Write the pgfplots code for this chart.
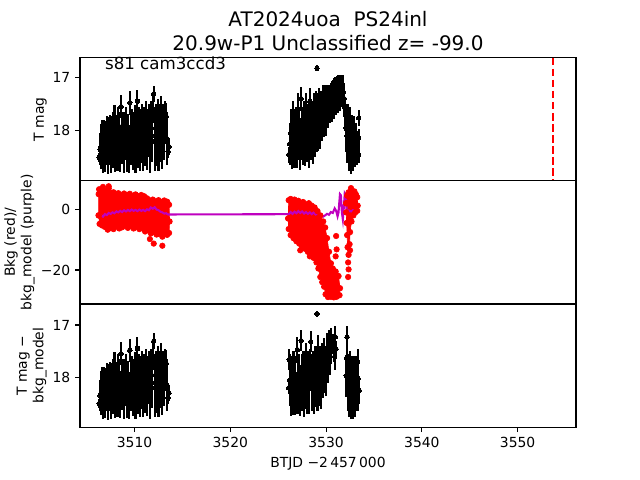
\documentclass[border=0pt]{standalone}
\usepackage{fontspec}
\setmainfont{DejaVu Sans}
\setsansfont{DejaVu Sans}
\usepackage{pgfplots}
\pgfplotsset{compat=1.18}
\usepackage{pgfplotstable}
\definecolor{purp}{rgb}{0.75,0,0.75}

\pgfplotsset{
  panel/.style={
    scale only axis, width=357.12pt, height=88.704pt,
    xmin=3504.3, xmax=3556.1,
    axis line style={line width=0.8pt},
    tick align=outside, tick pos=left, major tick length=3.5pt,
    tick style={line width=0.8pt, black},
    tick label style={font=\fontsize{10}{12}\selectfont},
    /pgf/number format/assume math mode=true,
    ylabel style={font=\fontsize{10}{12}\selectfont, align=center, inner sep=0pt, anchor=south},
  },
  ebar/.style={black, only marks, mark=*, mark size=1.6pt, mark options={fill=black, draw=black, line width=0pt},
    error bars/.cd, y dir=both, y explicit, error mark=none, error bar style={line width=1.5pt, black}},
}

% group 1 (shared by both magnitude panels)
\pgfplotstableread[row sep=\\]{
x y e\\
3506.3 18.50 0.08\\ 3506.4 18.35 0.30\\ 3506.5 18.30 0.42\\ 3506.6 18.20 0.40\\ 3506.7 18.35 0.45\\
3506.8 18.15 0.35\\ 3506.9 18.30 0.48\\ 3507.0 18.25 0.40\\ 3507.1 18.10 0.38\\ 3507.2 18.40 0.42\\
3507.3 18.20 0.45\\ 3507.4 18.05 0.35\\ 3507.5 18.30 0.50\\ 3507.6 18.15 0.42\\ 3507.7 18.25 0.45\\
3507.8 17.95 0.30\\ 3507.9 17.74 0.22\\ 3508.0 18.30 0.48\\ 3508.1 18.10 0.40\\ 3508.2 18.25 0.50\\
3508.3 17.90 0.35\\ 3508.4 18.20 0.55\\ 3508.5 18.35 0.42\\ 3508.6 17.55 0.22\\ 3508.7 18.15 0.48\\
3508.8 18.05 0.40\\ 3508.9 18.30 0.50\\ 3509.0 18.10 0.45\\ 3509.1 17.85 0.30\\ 3509.2 18.25 0.52\\
3509.3 18.10 0.42\\ 3509.4 18.35 0.45\\ 3509.5 17.48 0.22\\ 3509.6 18.15 0.50\\ 3509.7 18.00 0.40\\
3509.8 18.25 0.48\\ 3509.9 18.10 0.45\\ 3510.0 17.90 0.38\\ 3510.1 18.30 0.50\\ 3510.2 18.05 0.45\\
3510.3 17.45 0.22\\ 3510.4 18.20 0.50\\ 3510.5 17.95 0.40\\ 3510.6 18.30 0.45\\ 3510.7 18.10 0.50\\
3510.8 17.85 0.35\\ 3510.9 18.25 0.50\\ 3511.0 18.00 0.45\\ 3511.1 18.15 0.52\\ 3511.2 17.80 0.35\\
3511.3 18.25 0.48\\ 3511.4 18.05 0.45\\ 3511.5 17.90 0.40\\ 3511.6 18.30 0.50\\ 3511.7 17.75 0.30\\
3511.8 18.10 0.48\\ 3511.9 17.60 0.25\\ 3512.0 17.31 0.15\\ 3512.1 18.20 0.55\\ 3512.2 17.95 0.45\\
3512.3 18.15 0.52\\ 3512.4 17.80 0.40\\ 3512.5 18.25 0.50\\ 3512.6 17.95 0.45\\ 3512.7 18.10 0.48\\
3512.8 17.70 0.35\\ 3512.9 18.20 0.52\\ 3513.0 17.95 0.45\\ 3513.1 18.05 0.50\\ 3513.2 17.85 0.40\\
3513.3 17.73 0.25\\ 3513.4 18.15 0.50\\ 3513.5 18.39 0.12\\ 3513.6 18.30 0.15\\
}\gone

% top panel, second orbit
\pgfplotstableread[row sep=\\]{
x y e\\
3526.1 18.45 0.15\\ 3526.2 18.25 0.40\\ 3526.3 18.05 0.45\\ 3526.4 18.30 0.42\\ 3526.5 17.80 0.35\\
3526.6 18.20 0.50\\ 3526.7 18.05 0.45\\ 3526.8 18.30 0.40\\ 3526.9 17.95 0.40\\ 3527.0 18.20 0.50\\
3527.1 17.60 0.30\\ 3527.2 18.10 0.45\\ 3527.3 18.25 0.48\\ 3527.4 17.40 0.22\\ 3527.5 18.05 0.50\\
3527.6 18.20 0.45\\ 3527.7 17.85 0.40\\ 3527.8 18.15 0.52\\ 3527.9 17.65 0.35\\ 3528.0 18.10 0.48\\
3528.1 17.95 0.45\\ 3528.2 18.20 0.50\\ 3528.3 17.45 0.25\\ 3528.4 18.05 0.50\\ 3528.5 17.85 0.40\\
3528.6 18.15 0.48\\ 3528.7 17.75 0.45\\ 3528.8 18.00 0.50\\ 3528.9 17.65 0.40\\ 3529.0 17.95 0.45\\
3529.1 17.80 0.50\\ 3529.2 17.90 0.48\\ 3529.3 17.60 0.40\\ 3529.4 17.85 0.50\\ 3529.5 17.70 0.45\\
3529.6 17.75 0.45\\ 3529.7 17.55 0.40\\ 3529.8 17.70 0.42\\ 3529.9 17.50 0.35\\ 3530.0 17.65 0.45\\
3530.1 17.50 0.35\\ 3530.2 17.55 0.40\\ 3530.3 17.45 0.30\\ 3530.4 17.50 0.35\\ 3530.5 17.45 0.35\\
3530.6 17.45 0.38\\ 3530.7 17.38 0.33\\ 3530.8 17.40 0.38\\ 3530.9 17.32 0.32\\ 3531.0 17.35 0.35\\
3531.1 17.28 0.30\\ 3531.2 17.32 0.34\\ 3531.3 17.26 0.30\\ 3531.4 17.30 0.33\\ 3531.5 17.25 0.30\\
3531.6 17.23 0.28\\ 3531.7 17.26 0.30\\ 3531.8 17.28 0.32\\ 3531.9 17.40 0.30\\ 3532.0 17.70 0.30\\
3532.1 17.95 0.45\\ 3532.2 18.10 0.50\\ 3532.3 18.05 0.55\\ 3532.4 18.25 0.50\\ 3532.5 18.10 0.55\\
3532.6 18.40 0.42\\ 3532.7 18.20 0.50\\ 3532.8 18.35 0.40\\ 3532.9 18.15 0.42\\ 3533.0 18.30 0.38\\
3533.1 18.20 0.35\\ 3533.2 18.35 0.30\\ 3533.3 18.25 0.25\\ 3533.4 18.14 0.18\\ 3533.4 17.76 0.15\\
3533.4 18.45 0.15\\ 3529.05 16.83 0.06\\
}\gtwotop

% bottom panel, second orbit
\pgfplotstableread[row sep=\\]{
x y e\\
3526.1 18.20 0.12\\ 3526.15 17.66 0.20\\ 3526.2 18.05 0.50\\ 3526.3 18.25 0.48\\ 3526.4 18.10 0.50\\
3526.5 18.30 0.42\\ 3526.6 17.95 0.45\\ 3526.7 18.20 0.52\\ 3526.8 18.05 0.45\\ 3526.9 18.30 0.40\\
3527.0 17.47 0.25\\ 3527.1 18.15 0.55\\ 3527.2 18.00 0.45\\ 3527.3 18.25 0.48\\ 3527.4 17.30 0.20\\
3527.5 18.10 0.55\\ 3527.6 17.90 0.40\\ 3527.7 18.25 0.50\\ 3527.8 18.05 0.55\\ 3527.9 17.70 0.35\\
3528.0 18.20 0.50\\ 3528.1 17.95 0.45\\ 3528.2 18.15 0.55\\ 3528.3 17.85 0.40\\ 3528.4 17.32 0.20\\
3528.5 18.10 0.55\\ 3528.6 17.95 0.45\\ 3528.7 18.20 0.50\\ 3528.8 17.80 0.40\\ 3528.9 18.05 0.52\\
3529.0 17.90 0.45\\ 3529.1 18.15 0.50\\ 3529.2 17.45 0.25\\ 3529.3 18.00 0.55\\ 3529.4 17.85 0.45\\
3529.5 18.10 0.50\\ 3529.6 17.75 0.40\\ 3529.7 17.95 0.45\\ 3529.8 17.60 0.35\\ 3529.9 17.85 0.45\\
3530.0 17.90 0.45\\ 3530.1 17.55 0.40\\ 3530.2 17.70 0.40\\ 3530.3 17.45 0.35\\ 3530.4 17.60 0.35\\
3530.5 17.35 0.30\\ 3530.55 17.40 0.35\\ 3530.7 17.35 0.18\\ 3530.8 17.50 0.20\\ 3530.9 17.60 0.25\\
3530.97 17.23 0.21\\ 3531.05 17.46 0.15\\ 3529.05 16.79 0.06\\
3532.1 17.97 0.40\\ 3532.15 17.63 0.20\\ 3532.2 17.23 0.21\\ 3532.3 18.10 0.55\\ 3532.4 18.25 0.50\\
3532.5 18.05 0.55\\ 3532.6 18.30 0.50\\ 3532.7 18.15 0.55\\ 3532.8 18.35 0.45\\ 3532.9 18.10 0.50\\
3533.0 18.25 0.50\\ 3533.1 18.05 0.45\\ 3533.2 18.20 0.45\\ 3533.3 17.70 0.25\\ 3533.3 18.40 0.25\\
3533.35 18.02 0.35\\ 3533.45 18.25 0.25\\
}\gtwobot

\begin{document}
\begin{tikzpicture}
\useasboundingbox (0,0) rectangle (460.8pt,345.6pt);

% ---------------- top panel ----------------
\begin{axis}[panel, at={(57.6pt,215.424pt)}, anchor=south west,
  y dir=reverse, ymin=16.63, ymax=18.94, ytick={17,18}, xtick=\empty, clip=false,
  ylabel={T mag}, ylabel style={at={(axis description cs:-0.0665,0.5)}},
  title={AT2024uoa\ \ PS24inl\\20.9w-P1 Unclassified z= -99.0},
  title style={font=\fontsize{14.4}{17.3}\selectfont, align=center, inner sep=0pt, at={(axis description cs:0.5,1)}, anchor=south, yshift=-1.5pt}]
\addplot[ebar] table[x=x,y=y,y error=e]{\gone};
\addplot[ebar] table[x=x,y=y,y error=e]{\gtwotop};
\addplot[red, line width=1.5pt, dash pattern=on 5.55pt off 2.4pt] coordinates {(3553.7,16.63) (3553.7,18.94)};
\node[anchor=base west, inner sep=0pt, font=\fontsize{12}{14}\selectfont] at (rel axis cs:0.05,0.9) {s81 cam3ccd3};
\end{axis}

% ---------------- middle panel ----------------
\begin{axis}[panel, at={(57.6pt,126.72pt)}, anchor=south west,
  ymin=-31.2, ymax=9.4, ytick={-20,0}, yticklabels={−20,0}, xtick=\empty,
  ylabel={Bkg (red)/\\bkg\_model (purple)}, ylabel style={at={(axis description cs:-0.0907,0.5)}}]
% background, orbit 1 (dense cloud outline)
\addplot[red, fill=red, line width=0.5pt, mark=*, mark size=2pt, mark options={fill=red, draw=red}] coordinates {
(3506.25,-2) (3506.25,5.0) (3506.3,6.6) (3506.5,6.0) (3506.7,6.7) (3506.9,5.4) (3507.1,5.8) (3507.3,6.9) (3507.5,5.2)
(3507.8,5.6) (3508.0,4.9) (3508.3,5.3) (3508.6,4.6) (3508.9,5.2) (3509.2,4.7) (3509.5,5.1) (3509.8,4.4)
(3510.1,4.9) (3510.4,4.3) (3510.7,4.7) (3511.0,4.3) (3511.3,3.6) (3511.6,2.9) (3511.9,3.2) (3512.2,2.6)
(3512.5,3.0) (3512.8,2.4) (3513.1,2.9) (3513.4,2.5) (3513.6,1.5)
(3513.65,-4) (3513.6,-7.8) (3513.4,-8.4) (3513.1,-7.3) (3512.9,-9.0) (3512.6,-7.8) (3512.3,-8.3) (3512.0,-7.5)
(3511.7,-7.9) (3511.4,-6.8) (3511.1,-7.3) (3510.8,-6.1) (3510.5,-6.5) (3510.2,-5.7) (3509.9,-6.3) (3509.6,-5.5)
(3509.3,-6.1) (3509.0,-5.3) (3508.7,-5.9) (3508.4,-6.3) (3508.1,-5.6) (3507.8,-6.5) (3507.5,-6.1) (3507.2,-6.7)
(3506.9,-5.8) (3506.6,-5.3) (3506.35,-4.8) (3506.25,-2)};
% background, orbit 2
\addplot[red, fill=red, line width=0.5pt, mark=*, mark size=2pt, mark options={fill=red, draw=red}] coordinates {
(3526.05,-3) (3526.1,3.0) (3526.3,3.4) (3526.5,2.6) (3526.7,3.2) (3526.9,2.2) (3527.1,2.8) (3527.3,1.9)
(3527.6,2.4) (3527.9,1.6) (3528.2,2.0) (3528.5,1.2) (3528.8,0.6) (3529.1,-0.6) (3529.4,-2.0) (3529.7,-4.0)
(3529.9,-6.0) (3530.1,-9.5) (3530.3,-14.0) (3530.5,-17.8) (3530.7,-19.5) (3531.0,-20.5) (3531.3,-22.0)
(3531.45,-26) (3531.4,-28.3)
(3531.1,-28.8) (3530.8,-29.0) (3530.5,-28.8) (3530.2,-28.9) (3529.95,-28.0) (3529.8,-25.5) (3529.6,-24.0)
(3529.4,-22.3) (3529.2,-19.5) (3529.0,-17.5) (3528.7,-16.0) (3528.4,-14.8) (3528.1,-14.0) (3527.8,-13.0)
(3527.5,-12.3) (3527.2,-11.3) (3526.9,-10.5) (3526.6,-9.5) (3526.3,-8.5) (3526.1,-6.5) (3526.05,-3)};
% background, orbit 2 end
\addplot[red, fill=red, line width=0.5pt, mark=*, mark size=2pt, mark options={fill=red, draw=red}] coordinates {
(3532.1,2.0) (3532.2,4.5) (3532.35,5.6) (3532.5,5.0) (3532.65,6.2) (3532.8,5.5) (3532.95,5.9) (3533.1,5.0)
(3533.25,4.0) (3533.3,1.2) (3533.25,-0.5) (3533.05,-1.0) (3532.85,-2.0) (3532.65,-4.0) (3532.5,-7.5)
(3532.45,-11.5) (3532.35,-15.0) (3532.25,-12.5) (3532.2,-8.5) (3532.15,-4.5) (3532.1,-1) (3532.1,2.0)};
% scattered background points
\addplot[red, only marks, mark=*, mark size=2pt, mark options={fill=red, draw=red}] coordinates {
(3512.0,-11.3) (3512.9,-12.0) (3511.6,-9.8) (3507.3,7.6) (3506.7,7.4)
(3531.05,-8.8) (3531.1,-13.2) (3531.0,-15.5) (3527.3,-13.5) (3528.3,-15.5)
(3532.3,-17.5) (3532.35,-19.8) (3532.3,-22.3) (3532.5,-13.5) (3532.6,7.0)};
% background model
\addplot[purp, line width=1.5pt] coordinates {
(3506.3,-2.6) (3506.5,-2.0) (3506.7,-2.4) (3506.9,-1.6) (3507.1,-1.9) (3507.3,-1.2) (3507.5,-1.5) (3507.7,-1.0)
(3507.9,-1.3) (3508.1,-0.7) (3508.3,-1.0) (3508.5,-0.5) (3508.7,-0.9) (3508.9,-0.3) (3509.1,-0.7) (3509.3,-0.2)
(3509.5,-0.6) (3509.7,-0.1) (3509.9,-0.5) (3510.1,-0.2) (3510.3,-0.6) (3510.5,-0.1) (3510.7,-0.5) (3510.9,-0.2)
(3511.1,-0.6) (3511.3,0.0) (3511.5,-0.3) (3511.7,0.6) (3511.9,0.2) (3512.1,0.7) (3512.3,-0.1) (3512.5,-0.3)
(3512.7,-0.8) (3512.9,-1.0) (3513.1,-1.4) (3513.3,-1.3) (3513.5,-1.7) (3513.6,-1.7)
(3526.1,-1.6) (3526.3,-0.9) (3526.5,-1.5) (3526.7,-0.8) (3526.9,-1.3) (3527.1,-0.6) (3527.3,-1.2) (3527.5,-0.7)
(3527.7,-1.4) (3527.9,-0.9) (3528.1,-1.5) (3528.3,-1.0) (3528.5,-1.6) (3528.7,-1.1) (3528.9,-1.7) (3529.1,-1.4)
(3529.3,-2.0) (3529.5,-1.8) (3529.7,-2.4) (3529.9,-2.0) (3530.1,-1.5) (3530.3,-1.8) (3530.5,-0.9) (3530.7,-1.2)
(3530.9,0.3) (3531.05,-0.5) (3531.2,-2.3) (3531.3,-1.0) (3531.45,5.0) (3531.55,4.6) (3531.65,-1.0) (3531.75,-3.3)
(3531.85,0.5) (3531.95,5.3) (3532.05,4.8) (3532.15,-0.5) (3532.25,-1.2) (3532.4,-0.4) (3532.6,-0.7) (3532.8,-0.3)
(3533.0,-0.6) (3533.2,-0.4) (3533.35,-0.7)};
\end{axis}

% ---------------- bottom panel ----------------
\begin{axis}[panel, at={(57.6pt,38.016pt)}, anchor=south west,
  y dir=reverse, ymin=16.60, ymax=18.95, ytick={17,18},
  xtick={3510,3520,3530,3540,3550}, xticklabels={3510,3520,3530,3540,3550},
  xlabel={BTJD −2\,457\,000}, xlabel style={font=\fontsize{10}{12}\selectfont},
  ylabel={T mag −\\bkg\_model}, ylabel style={at={(axis description cs:-0.0665,0.5)}}]
\addplot[ebar] table[x=x,y=y,y error=e]{\gone};
\addplot[ebar] table[x=x,y=y,y error=e]{\gtwobot};
\end{axis}
\end{tikzpicture}
\end{document}
